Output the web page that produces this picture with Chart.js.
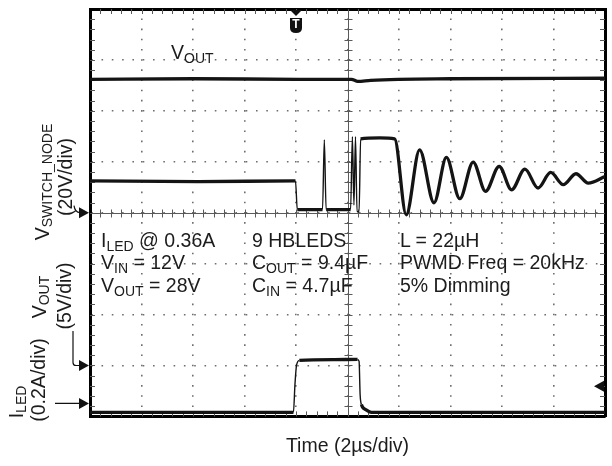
<!DOCTYPE html>
<html><head><meta charset="utf-8">
<script src="https://cdn.jsdelivr.net/npm/chart.js@4.4.1/dist/chart.umd.min.js"></script>
<style>
html,body{margin:0;padding:0;background:#fff;}
#wrap{position:relative;width:612px;height:466px;overflow:hidden;font-family:"Liberation Sans",Arial,Helvetica,sans-serif;color:#1c1c1c;}
canvas{position:absolute;left:0;top:0;}
.t{position:absolute;white-space:nowrap;font-size:19.5px;line-height:1;}
.t sub{font-size:14px;vertical-align:baseline;position:relative;top:4px;}
.r{transform:translate(-50%,-50%) rotate(-90deg);}
.r sub{top:3px;}
</style></head>
<body><div id="wrap"><canvas id="c" width="612" height="466" style="width:612px;height:466px"></canvas>
<div class="t" style="left:171px;top:43px">V<sub>OUT</sub></div>
<div class="t" style="left:101px;top:230.5px">I<sub>LED</sub> @ 0.36A</div>
<div class="t" style="left:101px;top:253px">V<sub>IN</sub> = 12V</div>
<div class="t" style="left:101px;top:276px">V<sub>OUT</sub> = 28V</div>
<div class="t" style="left:252px;top:230.5px">9 HBLEDS</div>
<div class="t" style="left:252px;top:253px">C<sub>OUT</sub> = 9.4µF</div>
<div class="t" style="left:252px;top:276px">C<sub>IN</sub> = 4.7µF</div>
<div class="t" style="left:400px;top:230.5px">L = 22µH</div>
<div class="t" style="left:400px;top:253px">PWMD Freq = 20kHz</div>
<div class="t" style="left:400px;top:276px">5% Dimming</div>
<div class="t r" style="left:43px;top:181.5px">V<sub>SWITCH_NODE</sub></div>
<div class="t r" style="left:66px;top:176.5px">(20V/div)</div>
<div class="t r" style="left:40px;top:297px">V<sub>OUT</sub></div>
<div class="t r" style="left:65px;top:296px">(5V/div)</div>
<div class="t r" style="left:17px;top:402px">I<sub>LED</sub></div>
<div class="t r" style="left:39px;top:380px">(0.2A/div)</div>
</div>
<script>
// Time axis: 2 µs/div, 10 divisions
const timeRange = [0, 20];
// VOUT trace (V), 5 V/div
const voutTime  = [0, 4, 8.1, 10.15, 10.4, 10.9, 14, 20];
const voutVolts = [28.1, 28.15, 28.1, 28.1, 27.9, 28.0, 28.15, 28.2];
// Switch node trace (V), 20 V/div
const swTime  = [0, 4.2, 7.98, 8.05, 9.03, 9.10, 9.17, 10.12, 10.19, 10.25, 10.31, 10.37, 10.45, 10.51, 11.25, 11.83, 12.28, 12.80, 13.36, 13.84, 14.36, 14.88, 15.36, 15.89, 16.37, 16.89, 17.40, 17.89, 18.38, 18.87, 19.35, 20.0];
const swVolts = [12.5, 12.2, 12.5, 1.2, 1.2, 28.6, 1.2, 1.2, 29.8, 3.0, 29.8, 0.4, 0.4, 29.0, 29.4, 29.0, -0.8, 24.7, 3.9, 21.7, 5.5, 19.9, 8.4, 18.2, 9.0, 17.1, 9.7, 15.8, 11.0, 15.3, 11.6, 14.2];
// LED current trace (A), 0.2 A/div
const iledTime = [0, 7.90, 7.96, 8.02, 8.13, 9.5, 10.39, 10.45, 10.49, 10.54, 10.70, 10.93, 20];
const iledAmps = [-0.035, -0.035, 0.075, 0.149, 0.169, 0.172, 0.173, 0.165, 0.035, -0.004, -0.024, -0.035, -0.035];
// channel vertical ranges (8 divisions each)
const swRange = [-80, 80];
const voutRange = [-5, 35];
const iledRange = [-0.051, 1.549];
const triggerTime = 8;
const triggerLevel = 0.067;

const pts = (xs, ys) => xs.map((v, i) => ({x: v, y: ys[i]}));
const traceColor = '#141414';
const segW = c => {
  const dx = Math.abs(c.p1.x - c.p0.x);
  return dx < 3 ? 1.4 : 3.3;
};

const scopeDecor = {
  id: 'scopeDecor',
  beforeDatasetsDraw(chart) {
    const {ctx, chartArea: a, scales: {x, y}} = chart;
    const cx = Math.round(x.getPixelForValue(10)) + 0.5;
    const cy = Math.round(y.getPixelForValue(4)) + 0.5;
    ctx.save();
    ctx.strokeStyle = '#5a5a5a';
    ctx.lineWidth = 1;
    ctx.beginPath();
    ctx.moveTo(a.left, cy); ctx.lineTo(a.right, cy);
    ctx.moveTo(cx, a.top); ctx.lineTo(cx, a.bottom);
    for (let i = 1; i < 50; i++) {
      const px = Math.round(x.getPixelForValue(i * 0.4)) + 0.5;
      ctx.moveTo(px, cy - 4); ctx.lineTo(px, cy + 4);
      ctx.moveTo(px, a.top); ctx.lineTo(px, a.top + 5);
      ctx.moveTo(px, a.bottom); ctx.lineTo(px, a.bottom - 5);
    }
    for (let j = 1; j < 40; j++) {
      const py = Math.round(y.getPixelForValue(j * 0.2)) + 0.5;
      ctx.moveTo(cx - 4, py); ctx.lineTo(cx + 4, py);
      ctx.moveTo(a.left, py); ctx.lineTo(a.left + 5, py);
      ctx.moveTo(a.right, py); ctx.lineTo(a.right - 5, py);
    }
    ctx.stroke();
    ctx.restore();
  },
  afterDraw(chart) {
    const {ctx, chartArea: a, scales} = chart;
    ctx.save();
    ctx.fillStyle = '#111';
    ctx.strokeStyle = '#111';
    ctx.lineWidth = 1.2;
    const tri = (tipX, yy, dir) => {
      ctx.beginPath();
      ctx.moveTo(tipX, yy);
      ctx.lineTo(tipX - dir * 10, yy - 5.5);
      ctx.lineTo(tipX - dir * 10, yy + 5.5);
      ctx.closePath(); ctx.fill();
    };
    const gSw = scales.ySw.getPixelForValue(0);
    const gVo = scales.yVo.getPixelForValue(0);
    const gI = scales.yLed.getPixelForValue(0);
    const ax = a.left - 1;
    tri(ax, gSw, 1); tri(ax, gVo, 1); tri(ax, gI, 1);
    ctx.beginPath();
    ctx.moveTo(74, gSw - 7); ctx.quadraticCurveTo(75, gSw, ax - 9, gSw);
    ctx.moveTo(73, 331); ctx.lineTo(73, gVo - 3); ctx.quadraticCurveTo(73, gVo, 76, gVo); ctx.lineTo(ax - 9, gVo);
    ctx.moveTo(55, gI); ctx.lineTo(ax - 9, gI);
    ctx.stroke();
    const tl = scales.yLed.getPixelForValue(triggerLevel);
    tri(a.right - 11, tl, -1);
    ctx.beginPath(); ctx.moveTo(a.right - 3, tl); ctx.lineTo(a.right - 1, tl); ctx.stroke();
    const tx = scales.x.getPixelForValue(triggerTime);
    ctx.beginPath();
    ctx.moveTo(tx - 6, a.top + 1); ctx.lineTo(tx + 6, a.top + 1); ctx.lineTo(tx, a.top + 7); ctx.closePath(); ctx.fill();
    ctx.beginPath();
    ctx.moveTo(tx - 6, a.top + 9);
    ctx.lineTo(tx + 6, a.top + 9);
    ctx.lineTo(tx + 6, a.top + 19);
    ctx.quadraticCurveTo(tx + 6, a.top + 24, tx, a.top + 24);
    ctx.quadraticCurveTo(tx - 6, a.top + 24, tx - 6, a.top + 19);
    ctx.closePath(); ctx.fill();
    ctx.fillStyle = '#fff';
    ctx.font = 'bold 12px "Liberation Sans", Arial, sans-serif';
    ctx.textAlign = 'center'; ctx.textBaseline = 'middle';
    ctx.fillText('T', tx, a.top + 16);
    ctx.restore();
  }
};

const dotDash = c => {
  const s = c.scale;
  const span = s.isHorizontal() ? (s.chart.chartArea.bottom - s.chart.chartArea.top) / 40 : (s.chart.chartArea.right - s.chart.chartArea.left) / 50;
  return [1.6, span - 1.6];
};
const hiddenTicks = {display: false};

new Chart(document.getElementById('c'), {
  type: 'line',
  data: {
    datasets: [
      {label: 'VOUT', data: pts(voutTime, voutVolts), yAxisID: 'yVo'},
      {label: 'VSWITCH_NODE', data: pts(swTime, swVolts), yAxisID: 'ySw'},
      {label: 'ILED', data: pts(iledTime, iledAmps), yAxisID: 'yLed'}
    ].map(d => Object.assign(d, {
      xAxisID: 'x', borderColor: traceColor, borderWidth: 3.3, pointRadius: 0,
      fill: false, cubicInterpolationMode: 'monotone', segment: {borderWidth: segW}
    }))
  },
  options: {
    responsive: false,
    animation: false,
    events: [],
    layout: {padding: {left: 90, right: 7, top: 9, bottom: 7.6}},
    plugins: {legend: {display: false}, tooltip: {enabled: false}},
    scales: {
      x: {
        type: 'linear', position: 'bottom', min: timeRange[0], max: timeRange[1],
        ticks: {display: false, stepSize: 2},
        grid: {color: '#6e6e6e', lineWidth: 1.6, drawTicks: false},
        border: {display: true, color: '#000', width: 3, dash: dotDash, dashOffset: 0.8},
        title: {display: true, text: 'Time (2µs/div)', color: '#1c1c1c',
          font: {family: '"Liberation Sans", Arial, sans-serif', size: 19.5}, padding: {top: 18.6, bottom: 0}}
      },
      y: {
        type: 'linear', position: 'left', min: 0, max: 8,
        ticks: {display: false, stepSize: 1},
        grid: {color: '#6e6e6e', lineWidth: 1.6, drawTicks: false},
        border: {display: true, color: '#000', width: 3, dash: dotDash, dashOffset: 0.8}
      },
      xTop: {type: 'linear', position: 'top', min: 0, max: 20, ticks: hiddenTicks,
        grid: {display: false, drawTicks: false}, border: {display: true, color: '#000', width: 3}},
      yRight: {type: 'linear', position: 'right', min: 0, max: 8, ticks: hiddenTicks,
        grid: {display: false, drawTicks: false}, border: {display: true, color: '#000', width: 3}},
      ySw: {display: false, min: swRange[0], max: swRange[1]},
      yVo: {display: false, min: voutRange[0], max: voutRange[1]},
      yLed: {display: false, min: iledRange[0], max: iledRange[1]}
    }
  },
  plugins: [scopeDecor]
});
</script>
</body></html>
